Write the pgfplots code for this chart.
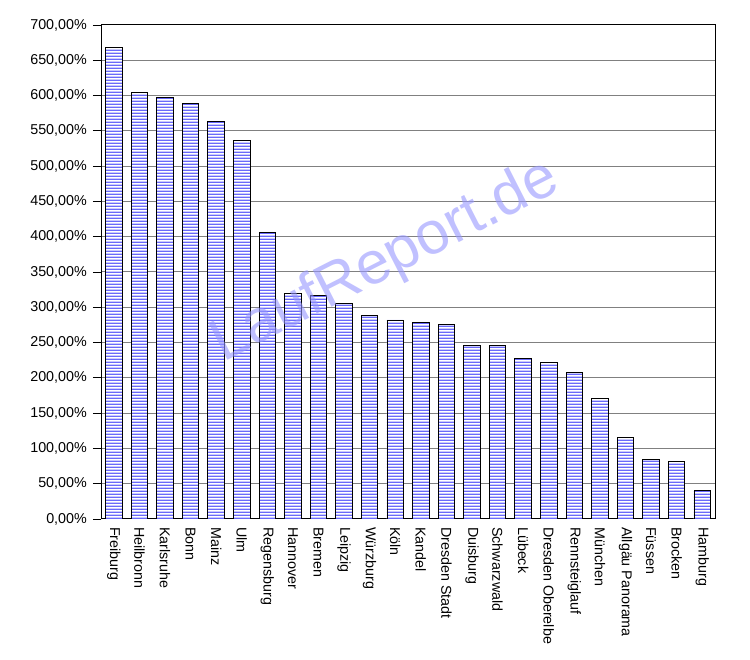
\documentclass[border=0pt]{standalone}
\usepackage{pgfplots}
\pgfplotsset{compat=1.18}
\usepackage{fontspec}
\setmainfont{Liberation Sans}
\usetikzlibrary{patterns}
\definecolor{barblue}{RGB}{105,105,250}
\definecolor{wmark}{RGB}{150,150,255}
\definecolor{gridgray}{RGB}{128,128,128}

% wide tile, so that the stripes show no seams
\pgfdeclarepatternformonly{hstripes}{\pgfpointorigin}{\pgfpoint{60pt}{3pt}}{\pgfpoint{60pt}{3pt}}{%
  \pgfpathrectangle{\pgfpoint{-1pt}{0pt}}{\pgfpoint{62pt}{1.7pt}}\pgfusepath{fill}}

\pgfplotstableread{
idx val
0 668
1 605
2 598
3 589
4 564
5 537
6 406
7 320
8 317
9 305
10 288
11 282
12 279
13 275
14 246
15 246
16 227
17 222
18 207
19 171
20 115
21 85
22 82
23 40
}\laufdata

\begin{document}
\begin{tikzpicture}[x=1pt,y=1pt]
\path[use as bounding box] (0,0) rectangle (750,660);
\begin{axis}[
  at={(101pt,141pt)}, anchor=south west,
  scale only axis, width=614pt, height=494pt,
  xmin=-0.5, xmax=23.5, ymin=0, ymax=700,
  ytick distance=50,
  xtick=data,
  xticklabels={Freiburg,Heilbronn,Karlsruhe,Bonn,Mainz,Ulm,Regensburg,Hannover,Bremen,Leipzig,Würzburg,Köln,Kandel,Dresden Stadt,Duisburg,Schwarzwald,Lübeck,Dresden Oberelbe,Rennsteiglauf,München,Allgäu Panorama,Füssen,Brocken,Hamburg},
  /pgf/number format/assume math mode=true,
  yticklabel={\pgfmathprintnumber[fixed,fixed zerofill,precision=2,use comma]{\tick}\%},
  ytick pos=left,
  tick align=outside,
  major tick length=8pt,
  xtick style={draw=none},
  ytick style={black, line width=0.8pt},
  ymajorgrids,
  major grid style={gridgray, line width=1pt},
  axis line style={black, line width=1pt},
  tick label style={font=\fontsize{14.3}{16}\selectfont},
  yticklabel style={inner sep=0pt, anchor=east, xshift=-6pt},
  xticklabel style={rotate=-90, anchor=west, inner sep=0pt},
  xticklabel shift=0pt,
]
\addplot[ybar, bar width=16.5pt, draw=black, line width=0.9pt, fill=white,
  postaction={pattern=hstripes, pattern color=barblue}]
  table[x=idx, y=val] {\laufdata};
\end{axis}
\node[rotate=27, text=wmark, opacity=0.6, font=\fontsize{60}{60}\selectfont] at (386,398) {LaufReport.de};
\end{tikzpicture}
\end{document}
